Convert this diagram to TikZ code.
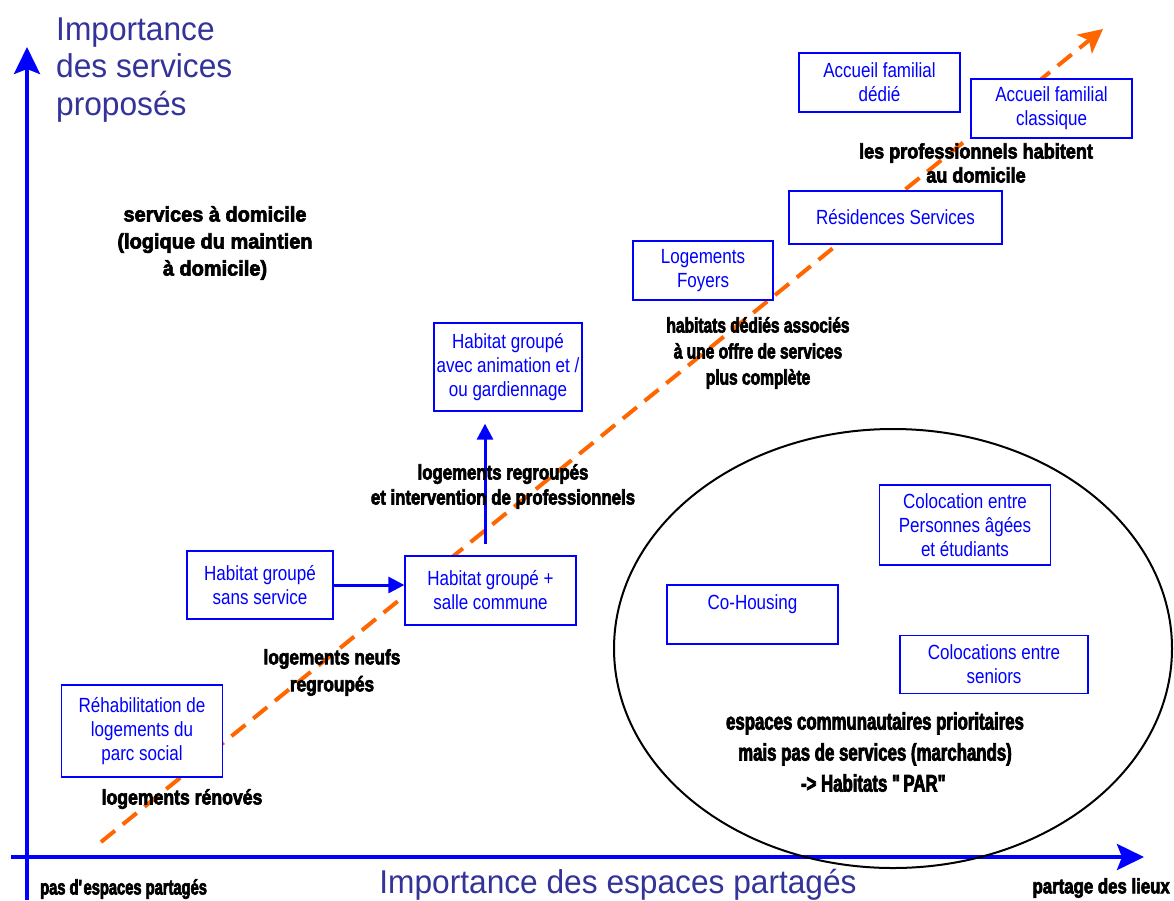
\documentclass[tikz,border=0pt]{standalone}
\usepackage{fontspec}
\setmainfont{Liberation Sans}
\newfontfamily\boxfont[FakeStretch=0.83]{Liberation Sans}
\newfontfamily\lblfont[BoldFeatures={FakeBold=3}]{Liberation Sans}
\newfontfamily\axisfont[FakeStretch=0.96]{Liberation Sans}
\usepackage{xcolor}
\usepackage{tikz}
\usetikzlibrary{arrows.meta,positioning,calc}
\definecolor{axisblue}{RGB}{51,51,153}
\definecolor{trendorange}{RGB}{255,102,0}

\begin{document}
\begin{tikzpicture}[x=1pt,y=-1pt,
    box/.style={draw=blue, fill=white, line width=1.3pt, text=blue, inner sep=0pt,
        font=\boxfont\fontsize{20.5}{24}\selectfont, align=center},
    lbl/.style n args={3}{inner sep=0pt, align=center,
        font=\lblfont\bfseries\fontsize{#1}{#2}\selectfont\addfontfeature{FakeStretch=#3}},
    axis/.style={blue, line width=4pt, -{Stealth[length=27pt,width=26pt,inset=5pt]}},
    flow/.style={blue, line width=3pt, -{Triangle[length=16pt,width=16pt]}},
    trend/.style={trendorange, line width=4pt, dash pattern=on 18pt off 10pt,
        -{Stealth[length=24pt,width=24pt,inset=6pt]}},
    axislbl/.style={text=axisblue, inner sep=0pt,
        font=\axisfont\fontsize{33}{37.5}\selectfont}]

    % Page
    \fill[white] (0,0) rectangle (1174,900);
    \useasboundingbox (0,0) rectangle (1174,900);

    % Axes
    \coordinate (ybot) at (27,900);
    \coordinate (ytop) at (27,47);
    \coordinate (xleft) at (11,857);
    \coordinate (xright) at (1144,857);
    \draw[axis] (ybot) -- (ytop);
    \draw[axis] (xleft) -- (xright);
    \node[axislbl, anchor=west, align=left] (ylbl) at (56,70) {Importance\\des services\\proposés};
    \node[axislbl] (xlbl) at (618,885) {Importance des espaces partagés};
    \node[lbl={21}{24}{0.70}, anchor=west] (noshare) at (40,889) {pas d\textquotesingle espaces partagés};
    \node[lbl={21}{24}{0.80}, anchor=east] (share) at (1170,888) {partage des lieux};

    % Trend line
    \coordinate (tstart) at (101,842);
    \coordinate (tend) at (1103,29);
    \draw[trend] (tstart) -- (tend);

    % Shared spaces
    \draw[line width=2pt] (893,648.5) ellipse [x radius=279, y radius=219.5];

    % Housing types
    \node[box, minimum width=161, minimum height=92] (rehab) at (142,731) {Réhabilitation de\\logements du\\parc social};
    \node[box, minimum width=146, minimum height=68] (sansserv) at (260,585) {Habitat groupé\\sans service};
    \node[box, minimum width=171, minimum height=69] (salle) at (490.5,590.5) {Habitat groupé +\\salle commune};
    \node[box, minimum width=148, minimum height=88] (anim) at (508,367) {Habitat groupé\\avec animation et /\\ou gardiennage};
    \node[box, minimum width=140, minimum height=59] (foyers) at (703,270.5) {Logements\\Foyers};
    \node[box, minimum width=213, minimum height=53] (residences) at (895.5,217.5) {Résidences Services};
    \node[box, minimum width=161, minimum height=59] (dedie) at (879.5,82.5) {Accueil familial\\dédié};
    \node[box, minimum width=161, minimum height=59] (classique) at (1051.5,108.5) {Accueil familial\\classique};
    \node[box, minimum width=171, minimum height=80] (coloc) at (965,525) {Colocation entre\\Personnes âgées\\et étudiants};
    \node[box, minimum width=171, minimum height=59] (cohousing) at (752.5,614.5) {Co-Housing\\\mbox{}};
    \node[box, minimum width=188, minimum height=58] (seniors) at (994,664.5) {Colocations entre\\seniors};

    % Steps
    \draw[flow] (sansserv.east) -- (sansserv.east -| salle.west);
    \coordinate (vx) at (485,0);
    \draw[flow, shorten <=11pt, shorten >=12pt] (salle.north -| vx) -- (anim.south -| vx);

    % Comments
    \node[lbl={21}{27}{0.95}] (domicile) at (215,243) {services à domicile\\(logique du maintien\\à domicile)};
    \node[lbl={21}{25}{0.80}] (regroup) at (503,486.5) {logements regroupés\\et intervention de professionnels};
    \node[lbl={21}{27}{0.82}] (neufs) at (332,672.5) {logements neufs\\regroupés};
    \node[lbl={21}{26}{0.84}] (renoves) at (182,799) {logements rénovés};
    \node[lbl={21}{26}{0.74}] (dedies) at (758,353) {habitats dédiés associés\\à une offre de services\\plus complète};
    \node[lbl={21}{24}{0.86}] (pros) at (976,163) {les professionnels habitent\\au domicile};
    \node[lbl={24}{31}{0.70}] (par) at (875,752) {espaces communautaires prioritaires\\mais pas de services (marchands)\\-> Habitats \textquotedbl PAR\textquotedbl};
\end{tikzpicture}
\end{document}
